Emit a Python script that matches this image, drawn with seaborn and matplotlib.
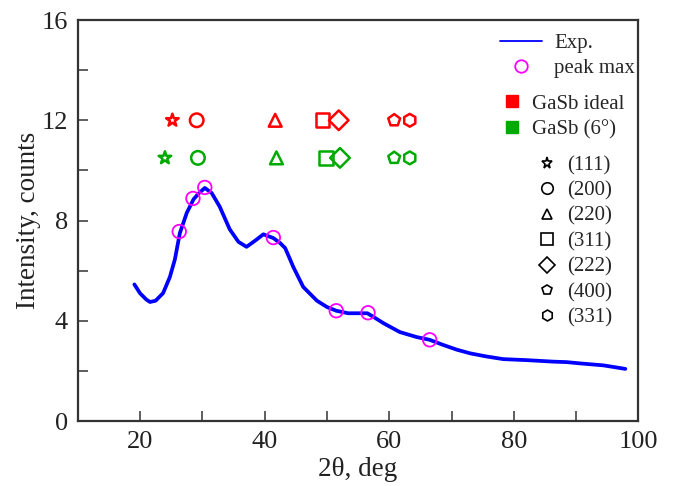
import numpy as np
import pandas as pd
import matplotlib
matplotlib.use("Agg")
import matplotlib.pyplot as plt
from matplotlib.lines import Line2D
import seaborn as sns

# ---- data ----
two_theta = [19.1, 20.0, 21.0, 21.6, 22.5, 23.7, 24.8, 25.6, 26.4, 27.5, 28.6, 29.5,
             30.4, 31.5, 32.8, 34.4, 35.8, 37.1, 38.5, 39.8, 41.4, 42.5, 43.3, 44.0,
             44.6, 46.2, 48.4, 50.0, 51.5, 53.4, 55.0, 56.5, 57.5, 59.1, 61.7, 64.4,
             66.5, 68.5, 70.8, 73.0, 75.5, 78.3, 82.0, 86.3, 88.5, 90.6, 94.4, 97.9]
intensity = [5.45, 5.1, 4.85, 4.75, 4.8, 5.1, 5.75, 6.45, 7.5, 8.3, 8.85, 9.1,
             9.3, 9.1, 8.55, 7.65, 7.15, 6.95, 7.2, 7.45, 7.3, 7.1, 6.9, 6.5,
             6.15, 5.35, 4.8, 4.55, 4.4, 4.3, 4.3, 4.3, 4.15, 3.9, 3.55, 3.35,
             3.24, 3.05, 2.85, 2.7, 2.58, 2.47, 2.43, 2.37, 2.35, 2.3, 2.22, 2.08]

peak_x = [26.3, 28.5, 30.4, 41.4, 51.5, 56.6, 66.5]
peak_y = [7.56, 8.88, 9.32, 7.32, 4.40, 4.32, 3.24]

hkl = ["(111)", "(200)", "(220)", "(311)", "(222)", "(400)", "(331)"]
ideal_x = [25.2, 29.1, 41.7, 49.3, 51.9, 60.8, 63.3]
ideal_y = [12.0] * 7
tilt_x = [24.0, 29.3, 41.9, 49.8, 52.1, 60.8, 63.3]
tilt_y = [10.5] * 7

series_labels = ["GaSb ideal", "GaSb (6°)"]
x_ticks = [20, 40, 60, 80, 100]
y_ticks = [0, 4, 8, 12, 16]

# ---- styling ----
sns.set_style("white")
plt.rcParams["font.family"] = ["Liberation Serif", "DejaVu Serif"]

markers = {"(111)": "*", "(200)": "o", "(220)": "^", "(311)": "s",
           "(222)": "D", "(400)": "p", "(331)": "h"}
msizes = {"(111)": 90, "(200)": 95, "(220)": 85, "(311)": 100,
          "(222)": 100, "(400)": 80, "(331)": 85}
red = "#ff0000"
green = "#00aa00"

fig = plt.figure(figsize=(6.75, 4.86), dpi=100)
ax = fig.add_axes([0.1151, 0.1337, 0.8307, 0.8251])

df = pd.DataFrame({"x": two_theta, "y": intensity})
sns.lineplot(data=df, x="x", y="y", ax=ax, color="#0000ff", linewidth=2.7,
             sort=False)

sns.scatterplot(x=peak_x, y=peak_y, ax=ax, marker="o", s=95,
                facecolors="none", edgecolors="#ff00ff", linewidths=1.3, zorder=5)

for xs, ys, col in [(ideal_x, ideal_y, red), (tilt_x, tilt_y, green)]:
    for xi, yi, lab in zip(xs, ys, hkl):
        sns.scatterplot(x=[xi], y=[yi], ax=ax, marker=markers[lab], s=msizes[lab],
                        facecolors="none", edgecolors=col, linewidths=1.8, zorder=5)

ax.set_xlim(10, 100)
ax.set_ylim(0, 16)
ax.set_xticks(x_ticks)
ax.set_xticks([30, 50, 70, 90], minor=True)
ax.set_yticks(y_ticks)
ax.set_yticks([2, 6, 10, 14], minor=True)
ax.tick_params(axis="both", which="both", direction="in", length=7, width=1.1,
               color="#333333", labelsize=19, labelcolor="#222222",
               bottom=True, left=True, top=False, right=False)
ax.tick_params(axis="x", which="both", pad=7)
ax.tick_params(axis="y", which="both", pad=7)
for sp in ax.spines.values():
    sp.set_visible(True)
    sp.set_linewidth(1.6)
    sp.set_color("#333333")

ax.set_xlabel("2θ, deg", fontsize=19.5, color="#222222", labelpad=3)
ax.set_ylabel("Intensity, counts", fontsize=19.5, color="#222222", labelpad=0)

# ---- legends ----
h1 = [Line2D([], [], color="#0000ff", lw=1.3),
      Line2D([], [], ls="none", marker="o", ms=9, mfc="none", mec="#ff00ff", mew=1.3)]
leg1 = ax.legend(h1, ["Exp.", "peak max"], loc="upper left",
                 bbox_to_anchor=(0.753, 0.967), frameon=False, fontsize=15,
                 borderpad=0, borderaxespad=0, handlelength=2.0,
                 handletextpad=0.6, labelspacing=0.28)
ax.add_artist(leg1)

h2 = [Line2D([], [], ls="none", marker="s", ms=8, color=red),
      Line2D([], [], ls="none", marker="s", ms=8, color=green)]
leg2 = ax.legend(h2, series_labels, loc="upper left",
                 bbox_to_anchor=(0.756, 0.815), frameon=False, fontsize=15,
                 borderpad=0, borderaxespad=0, handlelength=1.0,
                 handletextpad=0.45, labelspacing=0.3)
ax.add_artist(leg2)

h3 = [Line2D([], [], ls="none", marker=markers[l], ms=np.sqrt(msizes[l]) * 0.85,
             mfc="none", mec="black", mew=1.2) for l in hkl]
leg3 = ax.legend(h3, hkl, loc="upper left",
                 bbox_to_anchor=(0.818, 0.662), frameon=False, fontsize=15,
                 borderpad=0, borderaxespad=0, handlelength=1.0,
                 handletextpad=0.5, labelspacing=0.28)

fig.savefig("out.png", dpi=100)
